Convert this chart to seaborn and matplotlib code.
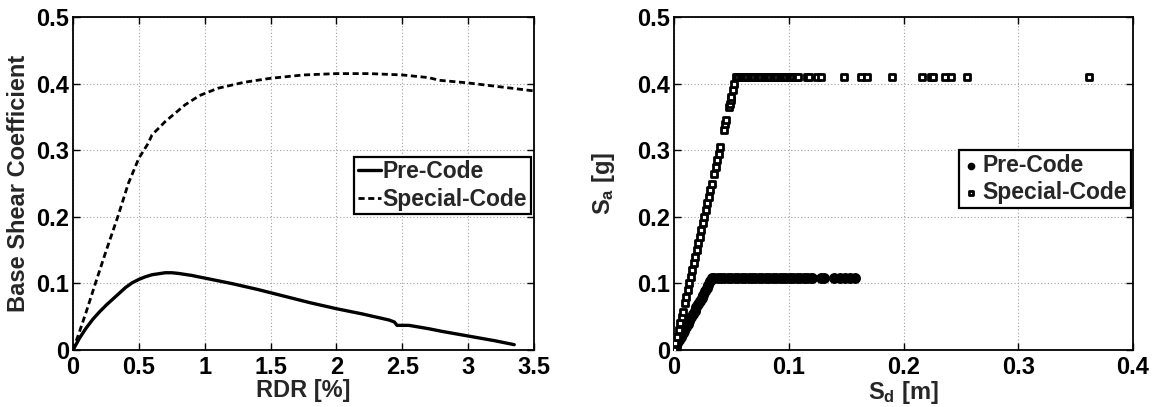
import matplotlib
matplotlib.use("Agg")
import matplotlib.pyplot as plt
import seaborn as sns
import pandas as pd

# ---------------- data ----------------
rdr_pre = [0, 0.05, 0.1, 0.15, 0.2, 0.25, 0.3, 0.35, 0.4, 0.45, 0.5, 0.55, 0.6, 0.7, 0.75, 0.8,
           0.9, 1.0, 1.2, 1.4, 1.6, 1.8, 2.0, 2.2, 2.4, 2.44, 2.46, 2.55, 2.7, 2.8, 3.0, 3.2, 3.35]
bsc_pre = [0, 0.018, 0.033, 0.046, 0.057, 0.067, 0.076, 0.085, 0.094, 0.101, 0.106, 0.110, 0.113,
           0.116, 0.116, 0.115, 0.112, 0.108, 0.100, 0.091, 0.081, 0.071, 0.062, 0.054, 0.045,
           0.042, 0.037, 0.037, 0.032, 0.028, 0.021, 0.014, 0.008]

rdr_spc = [0, 0.05, 0.1, 0.17, 0.25, 0.34, 0.42, 0.5, 0.57, 0.6, 0.7, 0.76, 0.85, 0.96, 1.1, 1.3,
           1.5, 1.75, 2.0, 2.25, 2.5, 2.7, 2.78, 3.0, 3.25, 3.5]
bsc_spc = [0, 0.028, 0.057, 0.1, 0.148, 0.2, 0.25, 0.288, 0.31, 0.323, 0.343, 0.353, 0.368, 0.382,
           0.393, 0.402, 0.408, 0.413, 0.415, 0.415, 0.413, 0.409, 0.405, 0.401, 0.395, 0.389]

sd_pre = [0, 0.0015, 0.003, 0.0045, 0.006, 0.0075, 0.009, 0.0105, 0.012, 0.0135, 0.015, 0.0165,
          0.018, 0.0195, 0.021, 0.0225, 0.024, 0.0255, 0.027, 0.0285, 0.03, 0.0315, 0.033,
          0.035, 0.038, 0.041, 0.044, 0.047, 0.050, 0.053, 0.056, 0.059, 0.062, 0.065, 0.068,
          0.071, 0.074, 0.077, 0.080, 0.083, 0.086, 0.089, 0.092, 0.095, 0.098, 0.101, 0.104,
          0.107, 0.110, 0.113, 0.116, 0.119, 0.120, 0.128, 0.131, 0.139, 0.145, 0.149, 0.153,
          0.1575]
sa_pre = [0, 0.005, 0.010, 0.015, 0.020, 0.025, 0.029, 0.034, 0.039, 0.044, 0.049, 0.054,
          0.059, 0.064, 0.069, 0.074, 0.078, 0.083, 0.088, 0.093, 0.098, 0.103, 0.108,
          0.108, 0.108, 0.108, 0.108, 0.108, 0.108, 0.108, 0.108, 0.108, 0.108, 0.108, 0.108,
          0.108, 0.108, 0.108, 0.108, 0.108, 0.108, 0.108, 0.108, 0.108, 0.108, 0.108, 0.108,
          0.108, 0.108, 0.108, 0.108, 0.108, 0.108, 0.108, 0.108, 0.108, 0.108, 0.108, 0.108,
          0.108]

sd_spc = [0, 0.0013, 0.0026, 0.0040, 0.0053, 0.0066, 0.0075, 0.0092, 0.0105, 0.0119, 0.0132,
          0.0145, 0.0158, 0.0171, 0.0184, 0.0198, 0.0211, 0.0224, 0.0237, 0.0250, 0.0263,
          0.0277, 0.0290, 0.0303, 0.0316, 0.0329, 0.0349, 0.0362, 0.0375, 0.0389, 0.0402,
          0.0435, 0.0448, 0.0454, 0.0481, 0.0487, 0.0494, 0.0500, 0.0514, 0.0527, 0.0540,
          0.056, 0.058, 0.060, 0.062, 0.064, 0.066, 0.068, 0.070, 0.072, 0.074, 0.076, 0.078,
          0.080, 0.082, 0.084, 0.086, 0.088, 0.090, 0.092, 0.094, 0.096, 0.098, 0.100, 0.102,
          0.104, 0.106, 0.108, 0.116, 0.118, 0.125, 0.128, 0.148, 0.163, 0.168, 0.190, 0.216,
          0.224, 0.226, 0.236, 0.241, 0.255, 0.362]
sa_spc = [0, 0.01, 0.02, 0.03, 0.04, 0.05, 0.057, 0.07, 0.08, 0.09, 0.10,
          0.11, 0.12, 0.13, 0.14, 0.15, 0.16, 0.17, 0.18, 0.19, 0.20,
          0.21, 0.22, 0.23, 0.24, 0.25, 0.265, 0.275, 0.285, 0.295, 0.305,
          0.33, 0.34, 0.345, 0.365, 0.37, 0.375, 0.38, 0.39, 0.40, 0.41,
          0.41, 0.41, 0.41, 0.41, 0.41, 0.41, 0.41, 0.41, 0.41, 0.41, 0.41, 0.41,
          0.41, 0.41, 0.41, 0.41, 0.41, 0.41, 0.41, 0.41, 0.41, 0.41, 0.41, 0.41,
          0.41, 0.41, 0.41, 0.41, 0.41, 0.41, 0.41, 0.41, 0.41, 0.41, 0.41, 0.41,
          0.41, 0.41, 0.41, 0.41, 0.41, 0.41]

left_xticks = [0, 0.5, 1, 1.5, 2, 2.5, 3, 3.5]
left_xticklabels = ["0", "0.5", "1", "1.5", "2", "2.5", "3", "3.5"]
yticks = [0, 0.1, 0.2, 0.3, 0.4, 0.5]
yticklabels = ["0", "0.1", "0.2", "0.3", "0.4", "0.5"]
right_xticks = [0, 0.1, 0.2, 0.3, 0.4]
right_xticklabels = ["0", "0.1", "0.2", "0.3", "0.4"]

# ---------------- style ----------------
sns.set_theme(style="white")
plt.rcParams["font.family"] = ["Liberation Sans", "DejaVu Sans"]
plt.rcParams["font.weight"] = "bold"
plt.rcParams["axes.labelweight"] = "bold"
plt.rcParams["mathtext.fontset"] = "custom"
plt.rcParams["mathtext.rm"] = "Liberation Sans:bold"
plt.rcParams["mathtext.it"] = "Liberation Sans:bold"
plt.rcParams["mathtext.bf"] = "Liberation Sans:bold"

FS = 17
LFS = 16.5

fig = plt.figure(figsize=(11.52, 4.07), dpi=100)
ax1 = fig.add_axes([73 / 1152, 1 - 350 / 407, 461 / 1152, (350 - 17) / 407])
ax2 = fig.add_axes([674 / 1152, 1 - 350 / 407, 459 / 1152, (350 - 17) / 407])

df_pre = pd.DataFrame({"x": rdr_pre, "y": bsc_pre})
df_spc = pd.DataFrame({"x": rdr_spc, "y": bsc_spc})
sns.lineplot(data=df_pre, x="x", y="y", ax=ax1, color="black", linewidth=2.4,
             estimator=None, sort=False, label="Pre-Code")
sns.lineplot(data=df_spc, x="x", y="y", ax=ax1, color="black", linewidth=2.0,
             estimator=None, sort=False, label="Special-Code", dashes=False)
ax1.lines[1].set_dashes([2.2, 1.3])

dfs_pre = pd.DataFrame({"x": sd_pre, "y": sa_pre})
dfs_spc = pd.DataFrame({"x": sd_spc, "y": sa_spc})
sns.scatterplot(data=dfs_pre, x="x", y="y", ax=ax2, marker="o", s=62, color="black",
                linewidth=0, label="Pre-Code", zorder=3)
sns.scatterplot(data=dfs_spc, x="x", y="y", ax=ax2, marker="s", s=22, facecolor="white",
                edgecolor="black", linewidth=2.0, label="Special-Code", zorder=3)

for ax, xt, xtl, xmax in [(ax1, left_xticks, left_xticklabels, 3.5),
                          (ax2, right_xticks, right_xticklabels, 0.4)]:
    ax.set_xlim(0, xmax)
    ax.set_ylim(0, 0.5)
    ax.set_xticks(xt)
    ax.set_xticklabels(xtl, fontsize=FS, fontweight="bold")
    ax.set_yticks(yticks)
    ax.set_yticklabels(yticklabels, fontsize=FS, fontweight="bold")
    ax.tick_params(direction="in", length=5, width=1, top=True, right=True,
                   bottom=True, left=True, colors="black")
    ax.tick_params(axis="x", pad=4)
    ax.tick_params(axis="y", pad=3)
    ax.grid(True, linestyle=(0, (1, 2)), color="#a0a0a0", linewidth=0.8)
    for sp in ax.spines.values():
        sp.set_visible(True)
        sp.set_color("black")
        sp.set_linewidth(1.3)
    ax.set_axisbelow(True)

ax1.set_xlabel("RDR [%]", fontsize=FS, fontweight="bold", labelpad=0)
ax1.set_ylabel("Base Shear Coefficient", fontsize=FS, fontweight="bold", labelpad=4)
ax2.set_xlabel(r"S$_{\rm d}$ [m]", fontsize=FS, fontweight="bold", labelpad=0)
ax2.set_ylabel(r"S$_{\rm a}$ [g]", fontsize=FS, fontweight="bold", labelpad=14)

leg_kw = dict(frameon=True, fancybox=False, edgecolor="black",
              borderpad=0.15, labelspacing=0.2, borderaxespad=0, handletextpad=0.1,
              prop={"weight": "bold", "size": LFS})
l1 = ax1.legend(loc="upper right", bbox_to_anchor=(0.993, 0.58), handlelength=1.0, **leg_kw)
l2 = ax2.legend(loc="upper right", bbox_to_anchor=(0.995, 0.6), handlelength=0.8,
                markerscale=0.7, **leg_kw)
for l in (l1, l2):
    l.get_frame().set_linewidth(1.6)
    l.get_frame().set_alpha(1)

fig.savefig("out.png", dpi=100)
